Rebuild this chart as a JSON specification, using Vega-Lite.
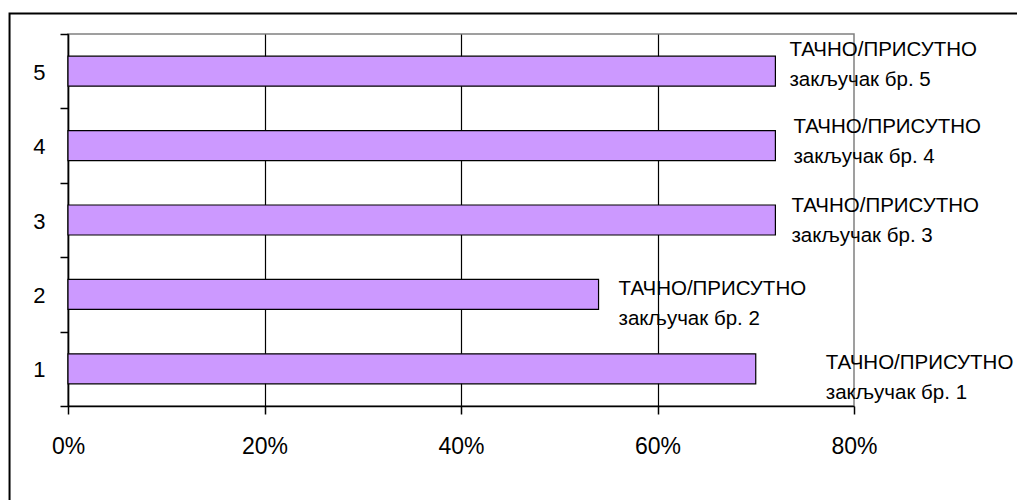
{
  "$schema": "https://vega.github.io/schema/vega-lite/v6.json",
  "autosize": "none",
  "padding": {"left": 68, "top": 34, "right": 163, "bottom": 94},
  "width": 786,
  "height": 372,
  "background": "white",
  "config": {
    "font": "Liberation Sans",
    "view": {"stroke": "#808080", "strokeWidth": 1.5},
    "axis": {
      "labelFont": "Liberation Sans",
      "labelColor": "black",
      "domainColor": "black",
      "domainWidth": 1.5,
      "tickColor": "black",
      "tickWidth": 1.5,
      "tickSize": 8,
      "title": null
    }
  },
  "data": {
    "values": [
      {"n": "1", "pct": 70, "label": "ТАЧНО/ПРИСУТНО\nзакључак бр. 1"},
      {"n": "2", "pct": 54, "label": "ТАЧНО/ПРИСУТНО\nзакључак бр. 2"},
      {"n": "3", "pct": 72, "label": "ТАЧНО/ПРИСУТНО\nзакључак бр. 3"},
      {"n": "4", "pct": 72, "label": "ТАЧНО/ПРИСУТНО\nзакључак бр. 4"},
      {"n": "5", "pct": 72, "label": "ТАЧНО/ПРИСУТНО\nзакључак бр. 5"}
    ]
  },
  "layer": [
    {
      "data": {"values": [{}]},
      "mark": {"type": "rect", "fill": null, "stroke": "black", "strokeWidth": 2, "clip": false},
      "encoding": {
        "x": {"datum": -5.95, "type": "quantitative", "scale": {"domain": [0, 80], "nice": false}},
        "x2": {"datum": 130},
        "y": {
          "datum": 1.055,
          "type": "quantitative",
          "scale": {"domain": [0, 1], "nice": false},
          "axis": {
            "orient": "left",
            "values": [0, 0.2, 0.4, 0.6, 0.8, 1],
            "labels": false,
            "domain": false,
            "grid": false,
            "ticks": true
          }
        },
        "y2": {"datum": -0.6}
      }
    },
    {
      "layer": [
        {
          "mark": {"type": "bar", "fill": "#CC99FF", "stroke": "black", "strokeWidth": 1.2},
          "encoding": {
            "x": {
              "field": "pct",
              "type": "quantitative",
              "scale": {"domain": [0, 80], "nice": false},
              "axis": {
                "values": [0, 20, 40, 60, 80],
                "labelExpr": "datum.value + '%'",
                "labelFontSize": 23,
                "labelFlush": false,
                "labelPadding": 21,
                "grid": true,
                "gridColor": {"condition": {"test": "datum.value === 80", "value": "transparent"}, "value": "black"},
                "gridWidth": 1.2
              }
            },
            "y": {
              "field": "n",
              "type": "nominal",
              "sort": "descending",
              "scale": {"paddingInner": 0.597, "paddingOuter": 0.2985},
              "axis": {
                "orient": "left",
                "ticks": false,
                "labelPadding": 23,
                "labelFontSize": 22,
                "labelOffset": 1.5,
                "labelAngle": 0
              }
            }
          }
        },
        {
          "encoding": {
            "x": {"field": "pct", "type": "quantitative"},
            "y": {"field": "n", "type": "nominal", "sort": "descending"},
            "text": {"field": "label"}
          },
          "layer": [
            {"transform": [{"filter": "datum.n === '5'"}], "mark": {"type": "text", "align": "left", "baseline": "alphabetic", "fontSize": 20.5, "lineBreak": "\n", "lineHeight": 30, "color": "black", "dx": 14, "dy": -15}},
            {"transform": [{"filter": "datum.n === '4'"}], "mark": {"type": "text", "align": "left", "baseline": "alphabetic", "fontSize": 20.5, "lineBreak": "\n", "lineHeight": 30, "color": "black", "dx": 18, "dy": -13}},
            {"transform": [{"filter": "datum.n === '3'"}], "mark": {"type": "text", "align": "left", "baseline": "alphabetic", "fontSize": 20.5, "lineBreak": "\n", "lineHeight": 30, "color": "black", "dx": 16, "dy": -8}},
            {"transform": [{"filter": "datum.n === '2'"}], "mark": {"type": "text", "align": "left", "baseline": "alphabetic", "fontSize": 20.5, "lineBreak": "\n", "lineHeight": 30, "color": "black", "dx": 20, "dy": 1}},
            {"transform": [{"filter": "datum.n === '1'"}], "mark": {"type": "text", "align": "left", "baseline": "alphabetic", "fontSize": 20.5, "lineBreak": "\n", "lineHeight": 30, "color": "black", "dx": 70, "dy": 0}}
          ]
        }
      ]
    }
  ],
  "resolve": {"scale": {"y": "independent"}}
}
